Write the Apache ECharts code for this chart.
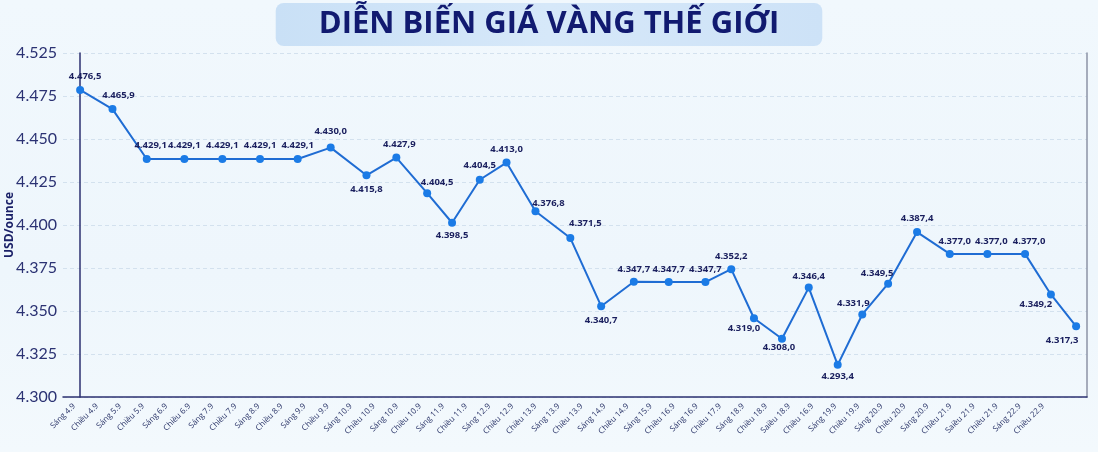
<!DOCTYPE html>
<html lang="vi">
<head>
  <meta charset="UTF-8">
  <title>Diễn biến giá vàng thế giới</title>
  <script src="https://cdn.jsdelivr.net/npm/echarts@6/dist/echarts.min.js"></script>
  <style>
    html, body { margin: 0; padding: 0; }
    body { background: linear-gradient(180deg, #f1f8fd 0%, #eef6fc 60%, #f3f9fd 100%); }
    #main { width: 1098px; height: 452px; }
  </style>
</head>
<body>
  <div id="main"></div>
  <script type="text/javascript">
    // x-axis labels, as printed under the chart
    var xLabels = [
      'Sáng 4.9', 'Chiều 4.9', 'Sáng 5.9', 'Chiều 5.9', 'Sáng 6.9', 'Chiều 6.9',
      'Sáng 7.9', 'Chiều 7.9', 'Sáng 8.9', 'Chiều 8.9', 'Sáng 9.9', 'Chiều 9.9',
      'Sáng 10.9', 'Chiều 10.9', 'Sáng 10.9', 'Chiều 10.9', 'Sáng 11.9', 'Chiều 11.9',
      'Sáng 12.9', 'Chiều 12.9', 'Chiều 13.9', 'Sáng 13.9', 'Chiều 13.9', 'Sáng 14.9',
      'Chiều 14.9', 'Sáng 15.9', 'Chiều 16.9', 'Sáng 16.9', 'Chiều 17.9', 'Sáng 18.9',
      'Chiều 18.9', 'Saiều 18.9', 'Chiều 16.9', 'Sáng 19.9', 'Chiều 19.9', 'Sáng 20.9',
      'Chiều 20.9', 'Sáng 20.9', 'Chiều 21.9', 'Saiều 21.9', 'Chiều 21.9', 'Sáng 22.9',
      'Chiều 22.9'
    ];

    // price printed next to each point
    var priceLabels = [
      '4.476,5', '4.465,9', '4.429,1', '4.429,1', '4.429,1', '4.429,1', '4.429,1',
      '4.430,0', '4.415,8', '4.427,9', '4.404,5', '4.398,5', '4.404,5', '4.413,0',
      '4.376,8', '4.371,5', '4.340,7', '4.347,7', '4.347,7', '4.347,7', '4.352,2',
      '4.319,0', '4.308,0', '4.346,4', '4.293,4', '4.331,9', '4.349,5', '4.387,4',
      '4.377,0', '4.377,0', '4.377,0', '4.349,2', '4.317,3'
    ];

    // where each point sits on the y scale (USD/ounce, thousands)
    var plotValues = [
      4.4785, 4.4674, 4.4384, 4.4384, 4.4384, 4.4384, 4.4384,
      4.4450, 4.4289, 4.4392, 4.4185, 4.4013, 4.4263, 4.4363,
      4.4080, 4.3924, 4.3528, 4.3670, 4.3668, 4.3668, 4.3743,
      4.3458, 4.3339, 4.3636, 4.3187, 4.3480, 4.3659, 4.3959,
      4.3832, 4.3832, 4.3832, 4.3596, 4.3411
    ];

    // position of each reading along the horizontal run (points are unevenly spaced)
    var timeSlots = [
      0, 1.04, 2.14, 3.35, 4.57, 5.78, 6.99,
      8.05, 9.2, 10.16, 11.15, 11.95, 12.84, 13.7,
      14.63, 15.75, 16.74, 17.79, 18.91, 20.09, 20.92,
      21.65, 22.55, 23.41, 24.34, 25.13, 25.96, 26.89,
      27.94, 29.15, 30.36, 31.19, 32
    ];

    // y tick labels, top one as printed
    var yTickLabels = ['4.300', '4.325', '4.350', '4.375', '4.400', '4.425', '4.450', '4.475', '4.525'];

    // label placement relative to each point (px)
    var labelOffsets = [
      [5, -14], [6, -14], [4, -14], [0, -14], [0, -14], [0, -14], [0, -14],
      [0, -16], [0, 14], [3, -13], [10, -11], [0, 13], [0, -14], [0, -13],
      [13, -8], [15, -15], [0, 14], [0, -12], [0, -13], [0, -13], [0, -13],
      [-10, 10], [-3, 9], [0, -11], [0, 11], [-9, -11], [-11, -10], [0, -14],
      [5, -13], [4, -13], [4, -13], [-15, 10], [-14, 14]
    ];

    var navy = '#1b2168';
    var chartDom = document.getElementById('main');
    var myChart = echarts.init(chartDom);

    var seriesData = plotValues.map(function (v, i) {
      return {
        value: [timeSlots[i], v],
        label: { formatter: priceLabels[i], offset: labelOffsets[i] }
      };
    });

    var option = {
      backgroundColor: 'transparent',
      title: {
        text: 'DIỄN BIẾN GIÁ VÀNG THẾ GIỚI',
        left: 'center',
        top: 3,
        padding: [4, 43, 4, 43],
        borderRadius: 8,
        backgroundColor: new echarts.graphic.LinearGradient(0, 0, 1, 0, [
          { offset: 0, color: '#c9e0f6' },
          { offset: 0.5, color: '#d6e8f9' },
          { offset: 1, color: '#cde2f7' }
        ]),
        textStyle: {
          fontFamily: 'Open Sans',
          fontWeight: 'bold',
          fontSize: 31,
          lineHeight: 35,
          color: '#111a70'
        }
      },
      grid: [
        { left: 63, right: 11, top: 53, bottom: 55, outerBoundsMode: 'none' },
        { left: 74, right: 55, top: 53, bottom: 55, outerBoundsMode: 'none' }
      ],
      xAxis: [
        {
          type: 'value',
          gridIndex: 0,
          min: -0.55,
          max: 32.35,
          axisLine: { show: true, onZero: false, lineStyle: { color: '#2c3070', width: 1.5 } },
          axisTick: { show: false },
          axisLabel: { show: false },
          splitLine: { show: false }
        },
        {
          type: 'category',
          gridIndex: 1,
          data: xLabels,
          boundaryGap: false,
          axisLine: { show: false },
          axisTick: { show: false },
          axisLabel: {
            rotate: 45,
            interval: 0,
            margin: 8,
            fontSize: 8,
            fontFamily: 'Open Sans',
            color: '#2a3468'
          }
        }
      ],
      yAxis: [
        {
          type: 'value',
          gridIndex: 0,
          min: 4.3,
          max: 4.5,
          interval: 0.025,
          name: 'USD/ounce',
          nameLocation: 'middle',
          nameRotate: 90,
          nameGap: 47,
          nameMoveOverlap: false,
          nameTextStyle: { fontFamily: 'Open Sans', fontWeight: 'bold', fontSize: 12, color: navy },
          axisLine: { show: true, lineStyle: { color: '#2c3070', width: 1.5 } },
          axisTick: { show: false },
          axisLabel: {
            margin: 6,
            fontSize: 16,
            fontFamily: 'Lato',
            color: '#2b3273',
            formatter: function (v) {
              return yTickLabels[Math.round((v - 4.3) / 0.025)];
            }
          },
          splitLine: { lineStyle: { color: '#d3e1ee', type: [4, 3], width: 1 } }
        },
        {
          type: 'value',
          gridIndex: 0,
          position: 'right',
          min: 4.3,
          max: 4.5,
          axisLine: { show: true, lineStyle: { color: '#8c93a6', width: 1.5 } },
          axisTick: { show: false },
          axisLabel: { show: false },
          splitLine: { show: false }
        },
        { type: 'value', gridIndex: 1, show: false, min: 0, max: 1 }
      ],
      series: [
        {
          name: 'Giá vàng',
          type: 'line',
          xAxisIndex: 0,
          yAxisIndex: 0,
          data: seriesData,
          symbol: 'circle',
          symbolSize: 8,
          lineStyle: { color: '#1f6cd3', width: 2 },
          itemStyle: { color: '#1b7be6' },
          label: {
            show: true,
            position: 'inside',
            align: 'center',
            verticalAlign: 'middle',
            fontFamily: 'Open Sans',
            fontWeight: 'bold',
            fontSize: 9.5,
            color: '#1a1f5e'
          },
          animation: false
        }
      ]
    };

    myChart.setOption(option);
  </script>
</body>
</html>
